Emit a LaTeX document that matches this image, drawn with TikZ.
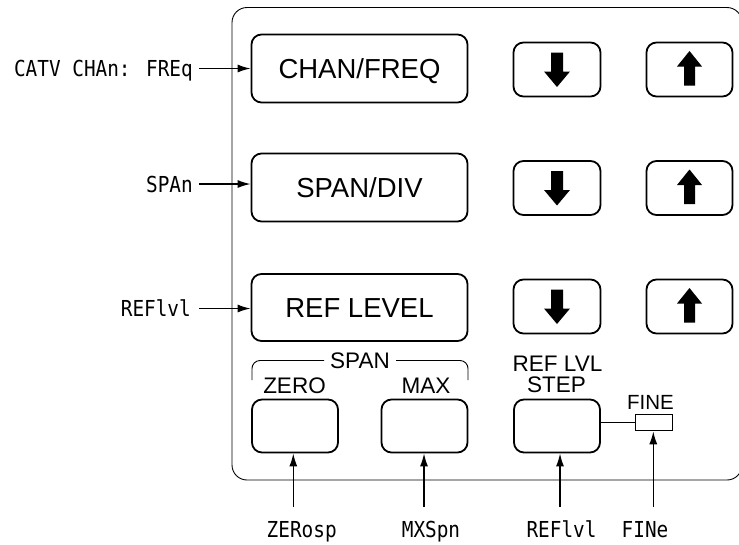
\documentclass[tikz,border=0pt]{standalone}
\usepackage{fontspec}
\setmainfont{Liberation Sans}
\newfontfamily\monof[FakeStretch=0.88]{DejaVu Sans Mono}
\usetikzlibrary{arrows.meta}
\begin{document}
\begin{tikzpicture}[x=1pt,y=-1pt,
  btn/.style={draw, line width=1.8pt, rounded corners=10pt, inner sep=0pt},
  bigbtn/.style={btn, minimum width=216pt, minimum height=68pt,
    font=\fontsize{27.5}{32}\selectfont, text height=19.7pt, text depth=0pt},
  smallbtn/.style={btn, minimum width=86pt, minimum height=54pt},
  sanslab/.style={inner sep=0pt, font=\fontsize{22.5}{26}\selectfont, text height=16.1pt, text depth=0pt},
  finelabel/.style={inner sep=0pt, font=\fontsize{20.5}{24}\selectfont, text height=14.7pt, text depth=0pt},
  monolab/.style={inner sep=0pt, font=\monof\fontsize{22}{26}\selectfont, text height=16pt, text depth=0pt},
  conn/.style={line width=1.4pt, -{Latex[length=13pt,width=8pt]}},
  thinline/.style={line width=0.9pt},
  downarr/.pic={\fill (-6,-17) -- (6,-17) -- (6,2) -- (13,2) -- (0,17.5) -- (-13,2) -- (-6,2) -- cycle;},
  uparr/.pic={\fill (-5.5,16) -- (5.5,16) -- (5.5,-3) -- (12.5,-3) -- (0,-18.5) -- (-12.5,-3) -- (-5.5,-3) -- cycle;}
  ]
\useasboundingbox (0,0) rectangle (739,544);

% panel frame
\draw[thinline, rounded corners=15pt] (232,7.5) rectangle (742,480);

% big buttons
\node[bigbtn] (chan) at (359.5,68.5) {CHAN/FREQ};
\node[bigbtn] (span) at (359.5,187.5) {SPAN/DIV};
\node[bigbtn, minimum height=67pt] (ref) at (359.5,307.5) {REF LEVEL};

% arrow buttons
\node[smallbtn, minimum width=87pt] (d1) at (557,69.5) {};
\node[smallbtn] (u1) at (689.5,69.5) {};
\node[smallbtn, minimum width=87pt] (d2) at (557,188) {};
\node[smallbtn] (u2) at (689.5,188) {};
\node[smallbtn, minimum width=87pt] (d3) at (557,306.5) {};
\node[smallbtn] (u3) at (689.5,306.5) {};
\pic at (d1.center) {downarr};
\pic at (u1.center) {uparr};
\pic at (d2.center) {downarr};
\pic at (u2.center) {uparr};
\pic at (d3.center) {downarr};
\pic at (u3.center) {uparr};

% lower buttons
\node[smallbtn, minimum height=53pt] (zero) at (295,426) {};
\node[smallbtn, minimum height=53pt] (max) at (424.5,426) {};
\node[smallbtn, minimum height=53pt] (step) at (557,426) {};
\node[draw, line width=1pt, minimum width=37.5pt, minimum height=16.5pt, inner sep=0pt] (fine) at (654,422.5) {};
\draw[line width=1pt] (fine.west -| step.east) -- (fine.west);

% labels on the panel
\node[sanslab] (spanlab) at (360,360.5) {SPAN};
\draw[thinline, rounded corners=8pt] ([xshift=-6pt]spanlab.west) -| (252,380);
\draw[thinline, rounded corners=8pt] ([xshift=6pt]spanlab.east) -| (468,380);
\node[sanslab] (zerolab) at (294.5,385) {ZERO};
\node[sanslab] (maxlab) at (426,385) {MAX};
\node[sanslab] (reflvllab) at (557.5,363.5) {REF LVL};
\node[sanslab] (steplab) at (556.5,384.5) {STEP};
\node[finelabel] (finelab) at (650.5,402.5) {FINE};

% left labels
\node[monolab, anchor=east] (cl) at (193,68.5) {CATV CHAn: FREq};
\node[monolab, anchor=east] (sl) at (193,184) {SPAn};
\node[monolab, anchor=east] (rl) at (191,308.5) {REFlvl};
\draw[conn] (cl.east -| 199,0) -- (cl.east -| chan.west);
\draw[conn] (sl.east -| 199,0) -- (sl.east -| span.west);
\draw[conn] (rl.east -| 199,0) -- (rl.east -| ref.west);

% bottom labels
\node[monolab] (zs) at (301.7,529.5) {ZERosp};
\node[monolab] (mx) at (431,529.5) {MXSpn};
\node[monolab] (rb) at (561.5,529.5) {REFlvl};
\node[monolab] (fn) at (645,529.5) {FINe};
\coordinate (za) at (293.3,507);
\coordinate (ma) at (424,507);
\coordinate (ra) at (560,507);
\coordinate (fa) at (653.3,507);
\draw[conn] (za) -- (za |- zero.south);
\draw[conn] (ma) -- (ma |- max.south);
\draw[conn] (ra) -- (ra |- step.south);
\draw[conn] (fa) -- (fa |- fine.south);
\end{tikzpicture}
\end{document}
